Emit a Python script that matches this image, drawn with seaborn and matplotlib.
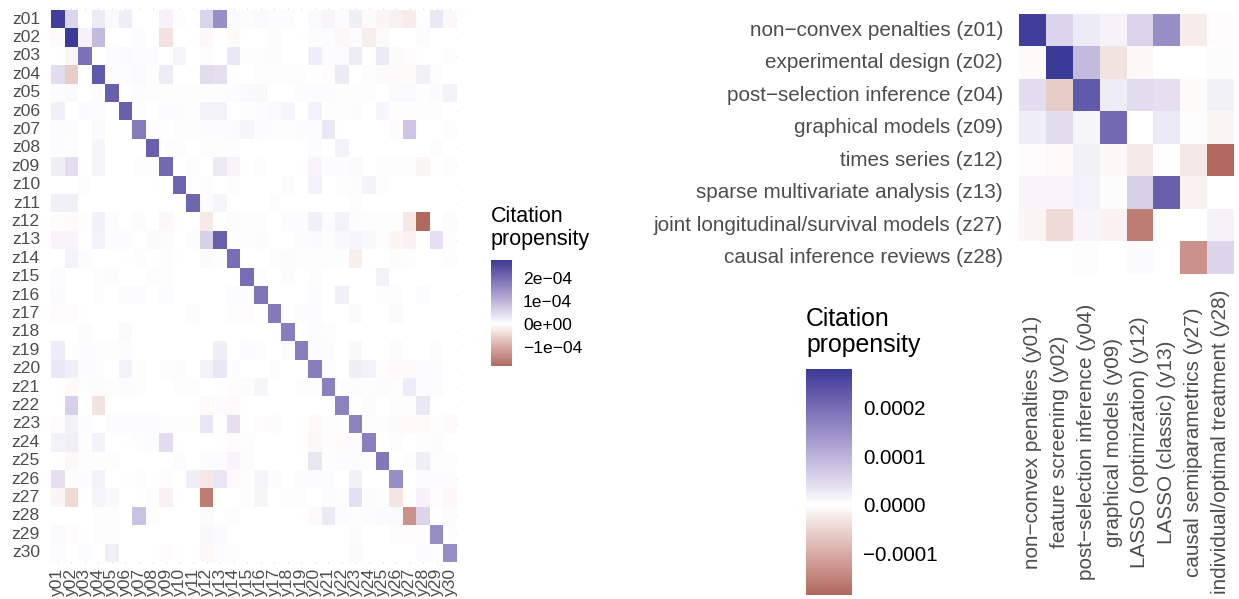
import numpy as np
import pandas as pd
import matplotlib
matplotlib.use("Agg")
import matplotlib.pyplot as plt
from matplotlib.colors import ListedColormap
from matplotlib.ticker import FuncFormatter
import seaborn as sns

# ---------------------------------------------------------------------------
# Data: citation propensity between topics (values in units of 1e-5)
# rows = citing topics z01..z30, columns = cited topics y01..y30
# ---------------------------------------------------------------------------
row_codes = [f"z{i:02d}" for i in range(1, 31)]
col_codes = [f"y{i:02d}" for i in range(1, 31)]

propensity_e5 = [
    [27, 5.5, 0, 2.6, 0.8, 2.2, 0, 0, 1.5, -0.3, 0, 5.5, 15, 0.8, 0.5, 0.8, 0.5, 0.5, 0, 0.8, 1.2, 0.5, 2.2, -0.5, -1.2, -1.6, -2.2, -0.3, 3, -0.8],
    [-0.5, 27.8, 1.5, 8.9, 0, 0, 0.5, 0, -3.3, 0, 0, -0.8, 0, -0.5, 0, 0, 0.5, 0, 0, -0.4, 0.5, -0.8, 0.5, -2, 0.8, 0, 0, 0.4, 0, 0],
    [0, -1, 19.3, 0, 0.5, 0.8, 0.5, 0.5, 0, 1.2, 0, -0.3, 0, 3, 0.3, 0.3, 0.5, 0, 0, 2.2, 0.5, 0.5, 2.5, 0, 2.8, -0.5, -0.3, 0, 0, -0.3],
    [4.2, -6, 0, 22.9, 0.5, 0.5, 0.8, 0.3, 2.5, 0, 0, 4.5, 4, 0, 0, 0.3, 0.3, 0.3, 0.3, 0, -0.3, 2.8, 0, 0.3, -0.5, -0.5, -0.4, 1.8, 0.3, 0],
    [0.5, 0.8, 0, 0.5, 22, 0, 0.5, -0.2, 0.3, 0.3, 0.3, 0.3, 0.3, 0.5, 0.8, 1, 0, 0, 0.5, 0.5, 0.5, 0.3, 0.3, 0.3, 0, 0.8, 0.8, 0.3, 0.6, 1.7],
    [2, 0, 0.6, 0.5, 0, 22, 0.3, 0, 0.5, 0.5, 0.3, 1.7, 1.5, 0, 0.3, 0.5, 0.8, 1.2, 0, 1.7, 0.3, 0.3, 0.5, 0, 1.2, -0.3, -0.3, 0.3, 0.3, 0],
    [0.5, 0.5, 0, 0.8, 0, 0, 18, -0.3, 0, 0.3, 0.3, 0.5, 0.5, 0.6, 1.3, 0.5, 0.3, 0.3, 0.5, 0.5, 3, 0, 0, 0, 0, 0.5, 7.5, 0, 0, 0.3],
    [0.5, 0.3, 0, 1.2, 0, 0, 0, 22, 0.3, 0.3, 0, 0.3, 0.3, 0.3, 0, 0, 0, 0, 0, 0.5, 0, 1.7, 0, 0, 0, 0, 0, 0, 0.3, 0],
    [2.2, 4.2, 0, 1.3, 0, 0, 0.3, 0.3, 20.5, 0, -0.2, 0, 2.8, 1.2, 0, 0.3, 0, 0, 0, 1.2, 0.5, 0.5, 0.8, 0, 0.3, -0.3, -0.2, -1.2, 0, 0.3],
    [0, 0, 0.3, 0, 0, 0, 0, 0, 0, 21.3, 0, 0.3, 0, 0.3, 0, 0, 0, 0.5, 0, 1.7, 0, 0.3, 0.5, 1.5, 0.3, 0, 0, 0, 0, 0],
    [2, 2, 0, 0, 0, 0, 0, 0, 0, 0, 21, 0.5, 1.3, 0, 0, 0, 0.3, 0, 0, 0, 0, 0, 0.3, 0, 0, 0, 0, 0, 0, 0],
    [-0.3, -0.5, 0.3, 1.9, 0.5, 0, 0.5, 0, -0.8, 0, 0, -2.4, 0, 0.5, 0.3, 0.3, 0, 0.5, 0.5, 2, 0.5, 1.7, 0.5, 0.3, 0.3, 0.3, -2.6, -18.4, 0, 0.5],
    [1.2, 1.2, 0, 1.7, 0.5, 0.5, 0, 0.8, 0.4, 0, 0.5, 5.8, 22, 0.3, 0.3, 0.5, 0, 0, 0.5, 0.6, 0.3, 1, 1.2, 1, -0.3, -1.2, -1.7, 0, 4, -0.3],
    [0, 1.7, 0.5, 0, 0, 0, -0.3, 0, -0.3, 0, 0, -0.5, 0.3, 19.7, 0, 0, 0.3, 0.5, 0.3, 0.3, 0.3, 0.3, -1.9, 0, 0, 0.5, 0.3, 0, 0, 0.3],
    [0.5, 0, 0, 0.3, 0.5, 0, 0, 0.3, 0.3, 0, 0, 0, 0, 0, 19.8, 0.3, 0, 0.5, 0, 0.3, 0, 0, 0, 0, 1.7, 0, 0, 0, 0, 0],
    [0.6, 0, 0, -0.3, 0, 0.5, 0.5, 0, 0.5, 0, 0, 0, 0, 0.5, 0.5, 18.6, 0, 0, 0, 0.5, 0, 2, 0, 0, -0.2, -0.2, 0, 0.5, 0, 0],
    [-0.3, -0.3, 0, 0, 0, 0, 0, 0, 0, 0, 0.5, 0, 0, -0.2, -0.3, 0, 18.2, 0, 0.5, 0.5, 0, 0, 0.6, 0, 0, 0.6, 0, 0, 0, 0],
    [0, 0, 0.5, 0, 0, 0.8, 0, 0, 0, 0, 0, 0, 0, 0, 0, 0, 0, 17.5, 0, 0.5, -0.2, 0, 0, 0, 0, 0, 0, 0, 0, 0],
    [2.5, 0, 0.5, 0.3, 0.3, 0.5, 0, 0, 0, 0, 0, 0, 2.2, 0, 0.5, 0.3, 0, 0.5, 17.5, 0.5, 0.5, 0, 1, 0, 0, 0.5, 0, 0, 0.3, 0],
    [3, 2, 0.5, 0.3, 0, 1.7, 0.3, 0, 0.3, 0.5, 0, 1.7, 3.2, 0.5, 0, 0, -0.2, 0, 0, 17.5, 0.3, 0, 2.2, 1.7, -0.3, -0.6, -0.5, 0.5, 0.5, 0],
    [0, -0.5, 0.3, 0.5, 0.3, 0.5, 0.3, 0, 0, 0.3, 0.3, 0, 0, -0.3, 0.5, 1.3, 0, 0, 0.3, 0.3, 17.2, 0.3, 0.5, 0.3, 0.5, -0.3, 2.5, 0.5, 0.5, 0],
    [0, 6, 0, -3.3, 0, 0, 0, 0, 0, 0, 0, -0.6, 0.5, -0.5, 0, 0, 0, 0, 0, 0, 0, 16.8, 0, 0.5, 0, 0.3, 0.3, 3, 0, 0],
    [-0.3, 1.7, 0.5, 0, 0.5, 0.5, 0.5, 0.5, 0.3, 0.3, 0.3, 3.3, 0, 4, 0, -0.3, 0.5, 0, 0, -0.5, 0.3, 0.3, 16.7, -0.3, 0.3, -0.5, -0.5, -0.5, 0.3, -0.6],
    [1.7, 2.2, 0.3, 1.5, 0, 0, -0.3, 0.5, 4.2, 0, 0, 0, 0, -0.3, 0.3, 0, 0, 0, 0, -0.8, -0.3, -0.5, 0.5, 17.2, 0, 0.3, 0, 0.3, 0.5, 0],
    [0, -0.8, 0.3, 0.3, 0.3, 0, 0, 0, 0, 0.5, 0, 0.5, 0.5, 1.2, 0.5, 0, 0, 0, 0, 3.2, 0.3, 0.5, 0.5, 0.3, 18.5, 0, -0.3, 2.2, 0.3, 0.3],
    [4, 0.5, 0.5, 1.7, 0, 0, -0.3, 0, -0.3, 0, 2.2, -2.7, 3.2, -0.5, 0.3, 1.3, 0.5, 0, 0.5, 0.5, 0.5, 0, 1.9, 0, 0, 15, 0, 0.5, 0.5, 0.5],
    [-1.2, -4.3, 0, 1.2, 1, 0, 0, -0.3, -1.5, 0, 0, -15.7, 0, 0, 0.3, 1.3, 0, 0.3, 0.3, 0, 0.5, -0.3, 4, 0.5, 0.3, -3, 0, 1.5, -0.3, -0.8],
    [0, 0, 0, 0.3, 0.3, 0, 7.9, 0.3, 0, 0, 0, 0.6, -0.1, -0.2, 0, 0, 0, 0, 0, -0.5, 2.8, 0.5, -0.3, 0.5, 0.6, 0.8, -13, 5.3, 0, 0.5],
    [0.8, -0.3, 0, 0.3, 0.3, 0, 0, 0, 0, 0, 0, 1, 0.6, 0, 0, 0, 0, 0, 0, 0, 0, 0, 0.5, 0, 0, -0.3, -0.3, 0.3, 15.3, 0.3],
    [0.5, 0, 0.5, 0, 2, 0, 0, 0, -0.3, 0, 0, -0.8, 0.5, -0.2, 0, 0, 0, 0, 0, 0, 0, 0, 0.8, 0, 0, 0, 0, 0.5, 0.3, 15.3],
]

# Topics shown in the labelled close-up panel
focus_rows = ["z01", "z02", "z04", "z09", "z12", "z13", "z27", "z28"]
focus_row_names = [
    "non\u2212convex penalties (z01)",
    "experimental design (z02)",
    "post\u2212selection inference (z04)",
    "graphical models (z09)",
    "times series (z12)",
    "sparse multivariate analysis (z13)",
    "joint longitudinal/survival models (z27)",
    "causal inference reviews (z28)",
]
focus_cols = ["y01", "y02", "y04", "y09", "y12", "y13", "y27", "y28"]
focus_col_names = [
    "non\u2212convex penalties (y01)",
    "feature screening (y02)",
    "post\u2212selection inference (y04)",
    "graphical models (y09)",
    "LASSO (optimization) (y12)",
    "LASSO (classic) (y13)",
    "causal semiparametrics (y27)",
    "individual/optimal treatment (y28)",
]

legend_breaks = [-1e-4, 0.0, 1e-4, 2e-4]

prop = pd.DataFrame(np.array(propensity_e5, dtype=float) * 1e-5,
                    index=row_codes, columns=col_codes)
focus = prop.loc[focus_rows, focus_cols].copy()
focus.index = focus_row_names
focus.columns = focus_col_names

VMIN = float(prop.values.min())
VMAX = float(prop.values.max())

# ---------------------------------------------------------------------------
# Diverging palette (low -> white -> high), interpolated in CIE Lab
# ---------------------------------------------------------------------------
LOW, MID, HIGH = "#B0685F", "#FFFFFF", "#3A3A97"
_M = np.array([[0.4124564, 0.3575761, 0.1804375],
               [0.2126729, 0.7151522, 0.0721750],
               [0.0193339, 0.1191920, 0.9503041]])
_WP = np.array([0.95047, 1.0, 1.08883])
_EPS, _KAP = 216 / 24389, 24389 / 27


def hex_rgb(h):
    return np.array([int(h[i:i + 2], 16) for i in (1, 3, 5)]) / 255.0


def rgb_to_lab(rgb):
    lin = np.where(rgb <= 0.04045, rgb / 12.92, ((rgb + 0.055) / 1.055) ** 2.4)
    t = (_M @ lin) / _WP
    f = np.where(t > _EPS, np.cbrt(t), (_KAP * t + 16) / 116)
    return np.array([116 * f[1] - 16, 500 * (f[0] - f[1]), 200 * (f[1] - f[2])])


def lab_to_rgb(lab):
    fy = (lab[0] + 16) / 116
    f = np.array([fy + lab[1] / 500, fy, fy - lab[2] / 200])
    t = np.where(f ** 3 > _EPS, f ** 3, (116 * f - 16) / _KAP)
    lin = np.clip(np.linalg.solve(_M, t * _WP), 0, 1)
    rgb = np.where(lin <= 0.0031308, 12.92 * lin, 1.055 * lin ** (1 / 2.4) - 0.055)
    return np.clip(rgb, 0, 1)


lab_lo, lab_mid, lab_hi = (rgb_to_lab(hex_rgb(c)) for c in (LOW, MID, HIGH))
colors = []
for v in np.linspace(VMIN, VMAX, 512):
    if v < 0:
        lab = lab_mid + (v / VMIN) * (lab_lo - lab_mid)
    else:
        lab = lab_mid + (v / VMAX) * (lab_hi - lab_mid)
    colors.append(lab_to_rgb(lab))
cmap = ListedColormap(colors)

# ---------------------------------------------------------------------------
# Figure
# ---------------------------------------------------------------------------
sns.set_theme(style="white")
plt.rcParams["font.family"] = ["Liberation Sans", "DejaVu Sans"]

W, H = 1239, 599
fig = plt.figure(figsize=(W / 100, H / 100), dpi=100)


def box(x0, y0, x1, y1):
    return [x0 / W, 1 - y1 / H, (x1 - x0) / W, (y1 - y0) / H]


AXIS_GREY = "#4D4D4D"
sci_fmt = FuncFormatter(lambda v, p: f"{v:.0e}".replace("-", "\u2212"))
dec_fmt = FuncFormatter(lambda v, p: f"{v:.4f}".replace("-", "\u2212"))

# --- full 30 x 30 matrix ---------------------------------------------------
ax1 = fig.add_axes(box(49.65, 8.16, 458.35, 563.84))
cax1 = fig.add_axes(box(491, 260, 512, 366))
sns.heatmap(prop, ax=ax1, cmap=cmap, vmin=VMIN, vmax=VMAX,
            xticklabels=True, yticklabels=True, linewidths=0,
            cbar_ax=cax1, cbar_kws={"ticks": legend_breaks, "format": sci_fmt})
ax1.set_xlim(-0.1, 30.1)
ax1.set_ylim(30.1, -0.1)
ax1.set_axisbelow(True)
ax1.grid(True, color="#E3E3E3", linewidth=0.6)
for s in ax1.spines.values():
    s.set_visible(False)
ax1.set_xlabel("")
ax1.set_ylabel("")
ax1.tick_params(axis="both", length=0, labelsize=12.6, labelcolor=AXIS_GREY)
ax1.tick_params(axis="y", pad=7)
ax1.tick_params(axis="x", pad=3)
plt.setp(ax1.get_yticklabels(), rotation=0, ha="right", va="center")
plt.setp(ax1.get_xticklabels(), rotation=90, ha="center", va="top")

cb1 = ax1.collections[0].colorbar
cb1.outline.set_visible(False)
cb1.ax.yaxis.set_ticks_position("both")
cb1.ax.tick_params(direction="in", length=3.2, width=0.8, color="white",
                   labelright=True, labelleft=False, labelsize=12.6,
                   labelcolor="black", pad=8)
fig.text(491 / W, 1 - 245 / H, "Citation\npropensity", fontsize=15.5,
         ha="left", va="baseline", linespacing=1.1, color="black")

# --- labelled close-up ------------------------------------------------------
ax2 = fig.add_axes(box(1019, 14, 1234, 274))
cax2 = fig.add_axes(box(806, 369, 852, 595))
sns.heatmap(focus, ax=ax2, cmap=cmap, vmin=VMIN, vmax=VMAX,
            xticklabels=True, yticklabels=True, linewidths=0,
            cbar_ax=cax2, cbar_kws={"ticks": legend_breaks, "format": dec_fmt})
for s in ax2.spines.values():
    s.set_visible(False)
ax2.set_xlabel("")
ax2.set_ylabel("")
ax2.tick_params(axis="both", length=0, labelsize=14.9, labelcolor=AXIS_GREY)
ax2.tick_params(axis="y", pad=11.5)
ax2.tick_params(axis="x", pad=121)
plt.setp(ax2.get_yticklabels(), rotation=0, ha="right", va="center")
plt.setp(ax2.get_xticklabels(), rotation=90, ha="center", va="center")

cb2 = ax2.collections[0].colorbar
cb2.outline.set_visible(False)
cb2.ax.yaxis.set_ticks_position("both")
cb2.ax.tick_params(direction="in", length=6.5, width=0.8, color="white",
                   labelright=True, labelleft=False, labelsize=14.9,
                   labelcolor="black", pad=8)
fig.text(806 / W, 1 - 352 / H, "Citation\npropensity", fontsize=17.9,
         ha="left", va="baseline", linespacing=1.1, color="black")

fig.savefig("out.png", dpi=100, facecolor="white")
